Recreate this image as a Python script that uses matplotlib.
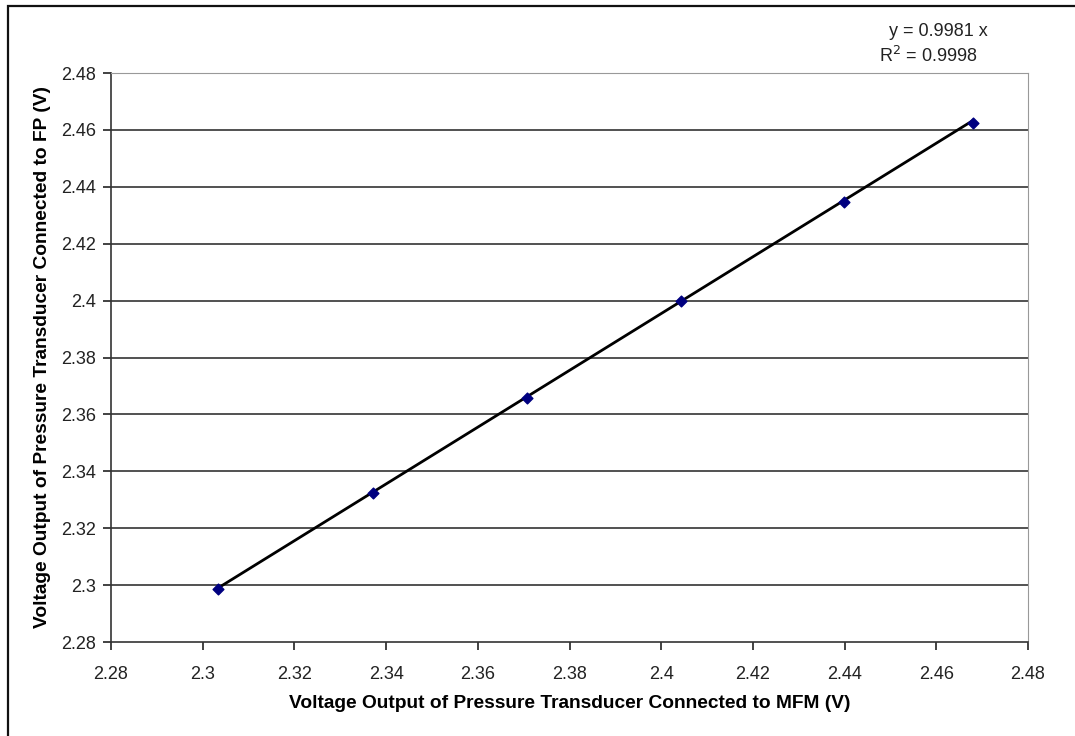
import numpy as np
import matplotlib.pyplot as plt

plt.rcParams['font.family'] = ['Liberation Sans', 'DejaVu Sans']

# transducer readings (V)
mfm = [2.3033, 2.3372, 2.3707, 2.4044, 2.4398, 2.4679]
fp = [2.2985, 2.3322, 2.3658, 2.3997, 2.4348, 2.4625]
slope = 0.9981
r2 = 0.9998

xticks = np.arange(2.28, 2.4801, 0.02)
yticks = np.arange(2.28, 2.4801, 0.02)

W, H = 1075, 736
fig = plt.figure(figsize=(W / 100, H / 100), dpi=100)
ax = fig.add_axes([111 / W, 1 - 642 / H, (1028 - 111) / W, (642 - 73) / H])

# chart frame (only the left and top edges fall inside the image)
fig.patches.append(plt.Rectangle((8 / W, -0.05), 1.2, 1 - 6 / H + 0.05, transform=fig.transFigure,
                                 fill=False, edgecolor='#111111', linewidth=1.6))

for y in yticks[1:]:
    ax.axhline(y, color='#333333', linewidth=1.2, zorder=1)

xs = np.array([min(mfm), max(mfm)])
ax.plot(xs, slope * xs, color='black', linewidth=2, zorder=2)
ax.scatter(mfm, fp, marker='D', s=30, color='#000080', zorder=3)

ax.set_xlim(2.28, 2.48)
ax.set_ylim(2.28, 2.48)
ax.set_xticks(xticks)
ax.set_yticks(yticks)
ax.set_xticklabels(['%g' % round(v, 2) for v in xticks])
ax.set_yticklabels(['%g' % round(v, 2) for v in yticks])
ax.tick_params(labelsize=13, length=6, width=1.2, direction='out', colors='#222222')
ax.tick_params(axis='x', pad=11)
ax.tick_params(axis='y', pad=5)

for side in ['top', 'right']:
    ax.spines[side].set_color('#999999')
for side in ['left', 'bottom']:
    ax.spines[side].set_color('#333333')
    ax.spines[side].set_linewidth(1.2)

ax.set_xlabel('Voltage Output of Pressure Transducer Connected to MFM (V)',
              fontsize=13.8, fontweight='bold', labelpad=9)
ax.set_ylabel('Voltage Output of Pressure Transducer Connected to FP (V)',
              fontsize=13.8, fontweight='bold', labelpad=7)

fig.text(938 / W, 1 - 31 / H, 'y = %.4f x' % slope, ha='center', va='center', fontsize=13, color='#222222')
fig.text(928 / W, 1 - 56 / H, 'R$^2$ = %.4f' % r2, ha='center', va='center', fontsize=13, color='#222222')

fig.savefig('out.png', dpi=100)
